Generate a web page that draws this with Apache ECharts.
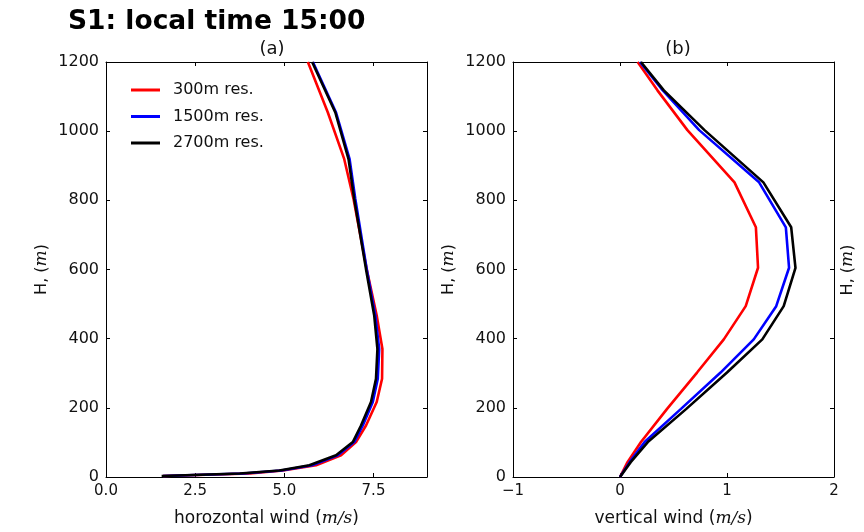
<!DOCTYPE html>
<html>
<head>
<meta charset="utf-8">
<script src="https://cdn.jsdelivr.net/npm/echarts@6/dist/echarts.min.js"></script>
<style>
  html, body { margin: 0; padding: 0; background: #fff; }
  #chart { width: 864px; height: 532px; }
</style>
</head>
<body>
<div id="chart"></div>
<script>
// ── Data ────────────────────────────────────────────────────────────────────
const SERIES_NAMES = ['300m res.', '1500m res.', '2700m res.'];
const SERIES_COLORS = ['#ff0000', '#0000ff', '#000000'];

// (a) horizontal wind (m/s) at heights H_A (m)
const H_A = [3, 10, 19, 34, 63, 101, 149, 217, 284, 370, 467, 601, 804, 919, 1054, 1200];
const U_300  = [1.60, 4.03, 4.96, 5.89, 6.59, 7.01, 7.29, 7.59, 7.74, 7.75, 7.59, 7.31, 6.94, 6.68, 6.22, 5.66];
const U_1500 = [1.60, 3.85, 4.92, 5.78, 6.50, 6.96, 7.20, 7.48, 7.62, 7.66, 7.55, 7.31, 6.99, 6.83, 6.45, 5.80];
const U_2700 = [1.56, 3.75, 4.86, 5.70, 6.45, 6.92, 7.15, 7.43, 7.57, 7.61, 7.52, 7.29, 6.96, 6.80, 6.43, 5.78];

// (b) vertical wind (m/s) at heights H_B (m)
const H_B = [0, 43, 101, 197, 302, 398, 494, 605, 722, 852, 1003, 1118, 1200];
const W_300  = [0, 0.07, 0.196, 0.44, 0.72, 0.97, 1.175, 1.29, 1.27, 1.07, 0.63, 0.35, 0.165];
const W_1500 = [0, 0.09, 0.23, 0.57, 0.94, 1.25, 1.46, 1.58, 1.55, 1.30, 0.74, 0.40, 0.187];
const W_2700 = [0, 0.10, 0.26, 0.62, 1.00, 1.33, 1.53, 1.64, 1.60, 1.34, 0.79, 0.41, 0.196];

const X_A = { min: 0, max: 9, interval: 2.5 };
const X_B = { min: -1, max: 2, interval: 1 };
const Y_RANGE = { min: 0, max: 1200, interval: 200 };

// ── Helpers ─────────────────────────────────────────────────────────────────
const FONT = 'DejaVu Sans';
const pairs = (xs, hs) => xs.map((x, i) => [x, hs[i]]);
const minus = v => (v < 0 ? '\u2212' + (-v) : String(v));

const richItalic = { i: { fontFamily: 'DejaVu Serif', fontStyle: 'italic', fontSize: 17, color: '#111' } };

function xAxisPair(grid, range, fmt, name) {
  const base = {
    gridIndex: grid, type: 'value', min: range.min, max: range.max, interval: range.interval,
    axisLine: { show: true, onZero: false, lineStyle: { color: '#000', width: 1 } },
    axisTick: { show: true, inside: true, length: 4, lineStyle: { color: '#000' } },
    splitLine: { show: false }
  };
  return [
    Object.assign({}, base, {
      position: 'bottom',
      axisLabel: { show: true, formatter: fmt, margin: 7, color: '#111', fontFamily: FONT, fontSize: 15, showMaxLabel: range.max % range.interval === 0 },
      name: name, nameLocation: 'middle', nameGap: 33,
      nameTextStyle: { fontFamily: FONT, fontSize: 17, color: '#111', rich: richItalic }
    }),
    Object.assign({}, base, { position: 'top', axisLabel: { show: false } })
  ];
}

function yAxisPair(grid) {
  const base = {
    gridIndex: grid, type: 'value', min: Y_RANGE.min, max: Y_RANGE.max, interval: Y_RANGE.interval,
    axisLine: { show: true, onZero: false, lineStyle: { color: '#000', width: 1 } },
    axisTick: { show: true, inside: true, length: 4, lineStyle: { color: '#000' } },
    splitLine: { show: false }
  };
  return [
    Object.assign({}, base, {
      position: 'left',
      axisLabel: { show: true, margin: 7, color: '#111', fontFamily: FONT, fontSize: 16, formatter: v => String(v) },
      name: 'H, ({i|m})', nameLocation: 'middle', nameGap: 56,
      nameTextStyle: { fontFamily: FONT, fontSize: 16, color: '#111', rich: richItalic }
    }),
    Object.assign({}, base, { position: 'right', axisLabel: { show: false } })
  ];
}

function lineSeries(name, color, data, axisBase) {
  return {
    name: name, type: 'line', data: data,
    xAxisIndex: axisBase, yAxisIndex: axisBase,
    symbol: 'none', showSymbol: false, smooth: false,
    lineStyle: { color: color, width: 2.6 },
    itemStyle: { color: color },
    emphasis: { disabled: true }, animation: false
  };
}

const A_DATA = [U_300, U_1500, U_2700];
const B_DATA = [W_300, W_1500, W_2700];
const series = [];
SERIES_NAMES.forEach((n, k) => series.push(lineSeries(n, SERIES_COLORS[k], pairs(A_DATA[k], H_A), 0)));
SERIES_NAMES.forEach((n, k) => series.push(lineSeries(n, SERIES_COLORS[k], pairs(B_DATA[k], H_B), 2)));

const chart = echarts.init(document.getElementById('chart'), null, { renderer: 'canvas' });
chart.setOption({
  backgroundColor: '#fff',
  animation: false,
  title: [
    { text: 'S1: local time 15:00', left: 63, top: 4,
      textStyle: { fontFamily: FONT, fontWeight: 'bold', fontSize: 26.5, color: '#000' } },
    { text: '(a)', left: 267, top: 35, textAlign: 'center',
      textStyle: { fontFamily: FONT, fontWeight: 'normal', fontSize: 18, color: '#111' } },
    { text: '(b)', left: 673, top: 35, textAlign: 'center',
      textStyle: { fontFamily: FONT, fontWeight: 'normal', fontSize: 18, color: '#111' } }
  ],
  legend: {
    data: SERIES_NAMES, orient: 'vertical', left: 126, top: 76,
    icon: 'rect', itemWidth: 29, itemHeight: 3, itemGap: 8.5,
    textStyle: { fontFamily: FONT, fontSize: 16, color: '#111', lineHeight: 18, padding: [0, 0, 0, 8] },
    selectedMode: false
  },
  grid: [
    { left: 106, top: 62, width: 321, height: 416, show: false },
    { left: 513, top: 62, width: 321, height: 416, show: false }
  ],
  xAxis: [].concat(
    xAxisPair(0, X_A, v => v.toFixed(1), 'horozontal wind ({i|m/s})'),
    xAxisPair(1, X_B, minus, 'vertical wind ({i|m/s})')
  ),
  yAxis: [].concat(yAxisPair(0), yAxisPair(1)),
  series: series,
  graphic: [
    { type: 'text', x: 848, y: 270, rotation: Math.PI / 2,
      style: { text: 'H, ({i|m})', fontFamily: FONT, fontSize: 16, fill: '#111',
        align: 'center', verticalAlign: 'middle', rich: richItalic } }
  ]
});
</script>
</body>
</html>
